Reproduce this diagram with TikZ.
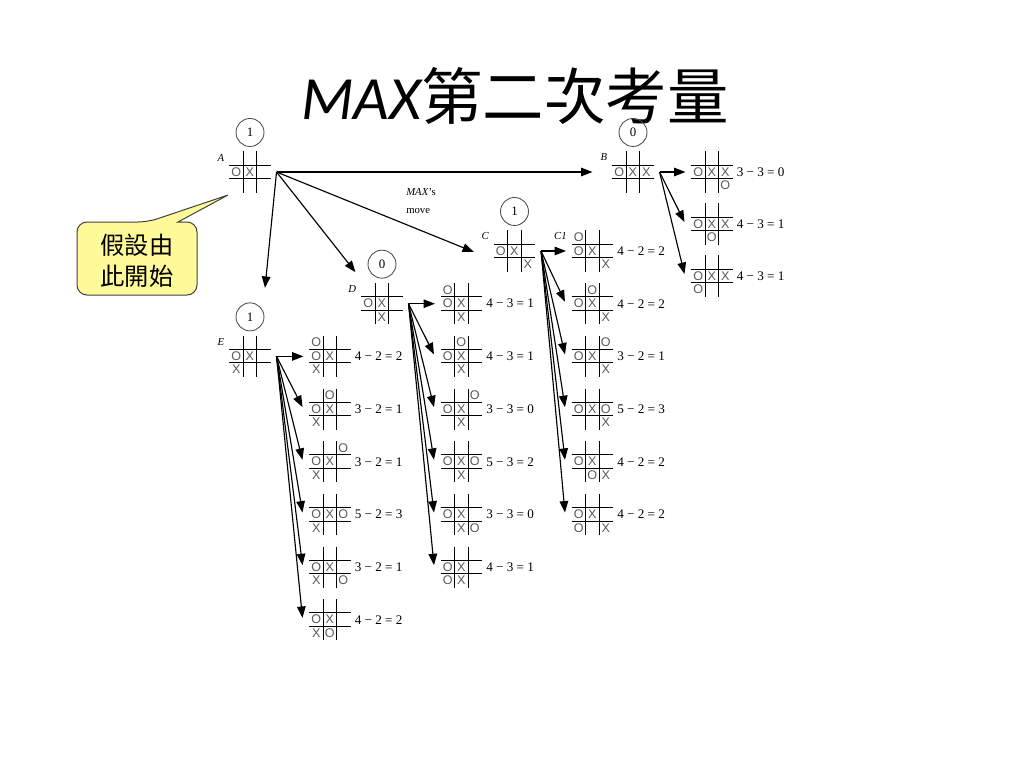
\documentclass[tikz,border=0pt]{standalone}
\usepackage{fontspec}
\setmainfont{Liberation Serif}
\newfontfamily\titlefont{Carlito}
\newfontfamily\cjk{Noto Sans CJK TC}
\newfontfamily\piecefont{Liberation Sans}
\usetikzlibrary{
  arrows.meta,
  positioning,
  calc
}

\tikzset{
  board/.style={rectangle, inner sep=0pt, minimum size=28.35pt},
  gridline/.style={black, line width=0.6pt},
  piece/.style={font=\piecefont\fontsize{8.8}{9}\selectfont, text=black!65, inner sep=0pt},
  score/.style={circle, draw=black!70, line width=0.6pt, minimum size=19.6pt, inner sep=0pt, font=\fontsize{9}{10}\selectfont},
  tag/.style={anchor=east, inner sep=0pt, font=\itshape\fontsize{7.5}{8}\selectfont},
  value/.style={anchor=west, inner sep=0pt, font=\fontsize{9.2}{10}\selectfont},
  move/.style={-{Triangle[length=8pt,width=6pt]}, line width=0.8pt, black},
  callout/.style={draw=black!75, fill=yellow!40, line width=0.7pt}
}

% tic-tac-toe board: name, centre, pieces as row/col/letter
\newcommand{\tttboard}[3]{%
  \node[board] (#1) at (#2) {};
  \draw[gridline] ($(#1.north west)+(13.5,0)$) -- ($(#1.south west)+(13.5,0)$)
                  ($(#1.north west)+(27,0)$) -- ($(#1.south west)+(27,0)$)
                  ($(#1.north west)+(0,13.5)$) -- ($(#1.north east)+(0,13.5)$)
                  ($(#1.north west)+(0,27)$) -- ($(#1.north east)+(0,27)$);
  \foreach \rr/\cc/\pp in {#3}{
    \node[piece] at ($(#1.north west)+(6.75+13.5*\cc,6.75+13.5*\rr)$) {\pp};
  }
}

\begin{document}
\begin{tikzpicture}[x=0.7pt, y=-0.7pt]
\useasboundingbox (0,0) rectangle (1024,768);

% title
\node[anchor=base] (title) at (515,119)
  {\fontsize{43}{50}\selectfont{\titlefont\itshape MAX}{\cjk 第二次考量}};

% first level
\tttboard{A}{250,172}{1/0/O,1/1/X}
\tttboard{B}{633,172}{1/0/O,1/1/X,1/2/X}
\tttboard{C}{514.5,251}{1/0/O,1/1/X,2/2/X}
\tttboard{D}{382,303.7}{1/0/O,1/1/X,2/1/X}
\tttboard{E}{250,356.4}{1/0/O,1/1/X,2/0/X}

% replies to B
\tttboard{b1}{712,172}{1/0/O,1/1/X,1/2/X,2/2/O}
\tttboard{b2}{712,224}{1/0/O,1/1/X,1/2/X,2/1/O}
\tttboard{b3}{712,276}{1/0/O,1/1/X,1/2/X,2/0/O}

% replies to C
\tttboard{c1}{592.5,251}{0/0/O,1/0/O,1/1/X,2/2/X}
\tttboard{c2}{592.5,303.7}{0/1/O,1/0/O,1/1/X,2/2/X}
\tttboard{c3}{592.5,356.4}{0/2/O,1/0/O,1/1/X,2/2/X}
\tttboard{c4}{592.5,409.1}{1/0/O,1/1/X,1/2/O,2/2/X}
\tttboard{c5}{592.5,461.8}{1/0/O,1/1/X,2/1/O,2/2/X}
\tttboard{c6}{592.5,514.5}{1/0/O,1/1/X,2/0/O,2/2/X}

% replies to D
\tttboard{d1}{461.5,303.7}{0/0/O,1/0/O,1/1/X,2/1/X}
\tttboard{d2}{461.5,356.4}{0/1/O,1/0/O,1/1/X,2/1/X}
\tttboard{d3}{461.5,409.1}{0/2/O,1/0/O,1/1/X,2/1/X}
\tttboard{d4}{461.5,461.8}{1/0/O,1/1/X,1/2/O,2/1/X}
\tttboard{d5}{461.5,514.5}{1/0/O,1/1/X,2/1/X,2/2/O}
\tttboard{d6}{461.5,567.2}{1/0/O,1/1/X,2/0/O,2/1/X}

% replies to E
\tttboard{e1}{330,356.4}{0/0/O,1/0/O,1/1/X,2/0/X}
\tttboard{e2}{330,409.1}{0/1/O,1/0/O,1/1/X,2/0/X}
\tttboard{e3}{330,461.8}{0/2/O,1/0/O,1/1/X,2/0/X}
\tttboard{e4}{330,514.5}{1/0/O,1/1/X,1/2/O,2/0/X}
\tttboard{e5}{330,567.2}{1/0/O,1/1/X,2/0/X,2/2/O}
\tttboard{e6}{330,619.9}{1/0/O,1/1/X,2/0/X,2/1/O}

% scores in circles and board tags
\foreach \n/\s in {A/1,B/0,C/1,D/0,E/1}
  \node[score] (s\n) at ($(\n.north)+(0,-19)$) {\s};
\foreach \n/\t in {A/A,B/B,C/C,D/D,E/E,c1/C1}
  \node[tag] at ($(\n.north west)+(-5,6)$) {\t};

% evaluations
\foreach \n/\v in {b1/3 − 3 = 0, b2/4 − 3 = 1, b3/4 − 3 = 1,
                   c1/4 − 2 = 2, c2/4 − 2 = 2, c3/3 − 2 = 1, c4/5 − 2 = 3, c5/4 − 2 = 2, c6/4 − 2 = 2,
                   d1/4 − 3 = 1, d2/4 − 3 = 1, d3/3 − 3 = 0, d4/5 − 3 = 2, d5/3 − 3 = 0, d6/4 − 3 = 1,
                   e1/4 − 2 = 2, e2/3 − 2 = 1, e3/3 − 2 = 1, e4/5 − 2 = 3, e5/3 − 2 = 1, e6/4 − 2 = 2}
  \node[value] at ($(\n.east)+(4,0)$) {\v};

% MAX's moves from A
\coordinate (Aout) at ($(A.east)+(6,0)$);
\draw[move] (Aout) -- ($(B.west)+(-20,0)$);
\draw[move] (Aout) -- ($(C.west)+(-20,1)$);
\draw[move] (Aout) -- ($(D.north west)+(-6,-11)$);
\draw[move] (Aout) -- ($(E.north)+(15,-48)$);
\node[anchor=north west, align=left, inner sep=0pt, font=\fontsize{7.5}{13}\selectfont] (movetext) at (406,188)
  {\textit{MAX}'s\\move};

% replies
\foreach \pa/\first/\rest in {B/b1/{b2,b3}, C/c1/{c2,c3,c4,c5,c6},
                              D/d1/{d2,d3,d4,d5,d6}, E/e1/{e2,e3,e4,e5,e6}}{
  \draw[move] ($(\pa.east)+(6,0)$) -- ($(\first.west)+(-6,0)$);
  \foreach \k in \rest
    \draw[move] ($(\pa.east)+(6,0)$) -- ($(\k.west)+(-7,-2)$);
}

% callout
\draw[callout, rounded corners=7pt] (197,258) -- (197,295) -- (77,295) -- (77,222) -- (148,222)
  [sharp corners] -- (228,195) -- (178,222) [rounded corners=7pt] -- (197,222) -- cycle;
\node[align=center, font=\cjk\fontsize{17}{22}\selectfont] (note) at (137,261) {假設由\\此開始};
\end{tikzpicture}
\end{document}
